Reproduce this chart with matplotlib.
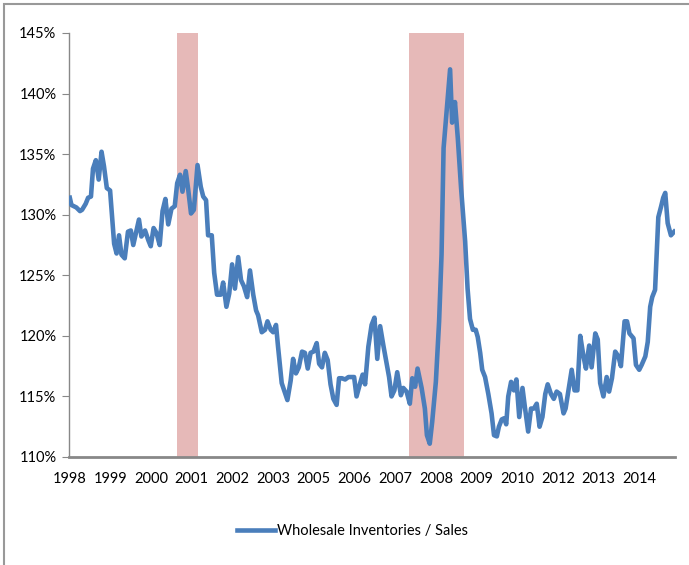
import matplotlib
matplotlib.use("Agg")
import matplotlib.pyplot as plt
import matplotlib.patches as mpatches

plt.rcParams['font.family'] = ['Lato', 'DejaVu Sans']

# category tick labels (evenly spaced, as in the source chart)
tick_labels = ["1998", "1999", "2000", "2001", "2002", "2003", "2005", "2006",
               "2007", "2008", "2009", "2010", "2012", "2013", "2014"]

# series position (in tick-label units) and inventories/sales ratio (%)
pos = [0.00, 0.04, 0.16, 0.25, 0.30, 0.39, 0.45, 0.52, 0.57, 0.64,
       0.71, 0.78, 0.84, 0.91, 0.99, 1.04, 1.09, 1.15, 1.21, 1.27,
       1.35, 1.43, 1.50, 1.56, 1.64, 1.70, 1.76, 1.85, 1.93, 1.99,
       2.06, 2.13, 2.21, 2.28, 2.35, 2.42, 2.50, 2.58, 2.64, 2.71,
       2.77, 2.85, 2.91, 2.98, 3.05, 3.14, 3.22, 3.28, 3.35, 3.40,
       3.49, 3.55, 3.62, 3.71, 3.77, 3.85, 3.92, 3.99, 4.06, 4.14,
       4.21, 4.28, 4.36, 4.43, 4.51, 4.58, 4.63, 4.72, 4.80, 4.86,
       4.94, 5.00, 5.07, 5.12, 5.21, 5.25, 5.35, 5.43, 5.49, 5.56,
       5.63, 5.71, 5.78, 5.85, 5.92, 5.99, 6.07, 6.13, 6.20, 6.27,
       6.34, 6.41, 6.48, 6.56, 6.62, 6.69, 6.77, 6.85, 6.93, 6.99,
       7.05, 7.13, 7.20, 7.26, 7.34, 7.42, 7.49, 7.56, 7.63, 7.71,
       7.77, 7.85, 7.91, 7.98, 8.05, 8.14, 8.20, 8.28, 8.36, 8.42,
       8.49, 8.55, 8.65, 8.73, 8.78, 8.85, 8.91, 9.00, 9.08, 9.14,
       9.19, 9.27, 9.35, 9.40, 9.47, 9.54, 9.62, 9.72, 9.78, 9.84,
       9.91, 9.98, 10.03, 10.09, 10.14, 10.21, 10.29, 10.37, 10.43, 10.50,
       10.55, 10.62, 10.68, 10.73, 10.78, 10.85, 10.92, 10.98, 11.05, 11.13,
       11.19, 11.27, 11.34, 11.41, 11.48, 11.55, 11.62, 11.69, 11.75, 11.83,
       11.90, 11.97, 12.05, 12.14, 12.19, 12.26, 12.34, 12.41, 12.48, 12.55,
       12.63, 12.69, 12.77, 12.83, 12.92, 12.98, 13.04, 13.12, 13.20, 13.26,
       13.33, 13.41, 13.49, 13.55, 13.64, 13.70, 13.76, 13.86, 13.92, 14.00,
       14.06, 14.15, 14.21, 14.27, 14.32, 14.39, 14.43, 14.47, 14.54, 14.59,
       14.64, 14.70, 14.78, 14.86]

ratio = [131.4, 130.8, 130.6, 130.3, 130.4, 130.9, 131.4, 131.5, 133.8, 134.5,
         132.9, 135.2, 134.0, 132.2, 132.0, 129.8, 127.6, 126.8, 128.3, 126.7,
         126.4, 128.6, 128.7, 127.5, 128.7, 129.6, 128.2, 128.7, 127.9, 127.4,
         128.9, 128.5, 127.5, 130.3, 131.3, 129.2, 130.5, 130.7, 132.6, 133.3,
         131.9, 133.6, 132.1, 130.1, 130.4, 134.1, 132.3, 131.5, 131.2, 128.3,
         128.3, 125.2, 123.4, 123.4, 124.4, 122.4, 123.5, 125.9, 123.9, 126.5,
         124.6, 124.1, 123.2, 125.4, 123.4, 122.1, 121.7, 120.3, 120.5, 121.2,
         120.5, 120.3, 120.9, 119.1, 116.1, 115.7, 114.7, 116.3, 118.1, 116.9,
         117.4, 118.7, 118.6, 117.3, 118.6, 118.7, 119.4, 117.7, 117.4, 118.6,
         118.0, 116.0, 114.8, 114.3, 116.5, 116.5, 116.4, 116.6, 116.6, 116.6,
         115.0, 116.0, 116.8, 116.0, 119.1, 120.9, 121.5, 118.1, 120.8, 119.2,
         118.1, 116.6, 115.0, 115.5, 117.0, 115.1, 115.7, 115.4, 114.4, 116.5,
         115.8, 117.3, 115.7, 114.0, 111.8, 111.1, 112.9, 116.2, 121.2, 126.7,
         135.5, 138.8, 142.0, 137.6, 139.3, 136.3, 132.2, 127.8, 123.9, 121.4,
         120.5, 120.5, 119.9, 118.6, 117.2, 116.6, 115.2, 113.6, 111.8, 111.7,
         112.5, 113.1, 113.2, 112.7, 115.0, 116.2, 115.5, 116.4, 113.3, 115.7,
         114.1, 112.1, 114.0, 114.0, 114.4, 112.5, 113.3, 115.2, 116.0, 115.2,
         114.8, 115.4, 115.2, 113.6, 114.0, 115.5, 117.2, 115.5, 115.5, 120.0,
         118.3, 117.3, 119.2, 117.4, 120.2, 119.7, 116.1, 115.0, 116.6, 115.4,
         116.5, 118.7, 118.3, 117.5, 121.2, 121.2, 120.2, 119.8, 117.6, 117.2,
         117.6, 118.3, 119.5, 122.4, 123.2, 123.8, 126.8, 129.8, 130.7, 131.4,
         131.8, 129.3, 128.3, 128.6]

# recession bands (start, end) in tick-label units
recessions = [(2.63, 3.16), (8.35, 9.70)]

fig = plt.figure(figsize=(6.89, 5.65), dpi=100)
ax = fig.add_axes([69/689, 1-457/565, (675-69)/689, (457-33)/565])

for start, end in recessions:
    ax.axvspan(start, end, color='#E6B9B8', lw=0, zorder=1)

line, = ax.plot(pos, ratio, color='#4A7EBB', lw=3.3, solid_joinstyle='round',
                zorder=3, label='Wholesale Inventories / Sales')

ax.set_xlim(-0.02, 14.88)
ax.set_ylim(110, 145)
ax.set_yticks(range(110, 146, 5))
ax.set_yticklabels([f"{v}%" for v in range(110, 146, 5)])
ax.set_xticks(range(len(tick_labels)))
ax.set_xticklabels(tick_labels)

for s in ['top', 'right']:
    ax.spines[s].set_visible(False)
ax.spines['left'].set_color('#888888')
ax.spines['left'].set_linewidth(1.0)
ax.spines['bottom'].set_color('#888888')
ax.spines['bottom'].set_linewidth(2.0)
ax.tick_params(axis='y', direction='out', length=5, color='#888888',
               labelsize=10.5, pad=4)
ax.tick_params(axis='x', length=0, labelsize=10.5, pad=11)

fig.legend(handles=[line], loc='center', bbox_to_anchor=(0.512, 0.060),
           frameon=False, fontsize=10.5, handlelength=2.6, handletextpad=0.15)

# outer chart frame (partially cropped in the source)
fig.patches.append(mpatches.Rectangle((4/689, -0.05), 1.2, 1 - 4/565 + 0.05,
                                      transform=fig.transFigure, fill=False,
                                      edgecolor='#999999', lw=1.5))

fig.savefig('out.png', dpi=100)
